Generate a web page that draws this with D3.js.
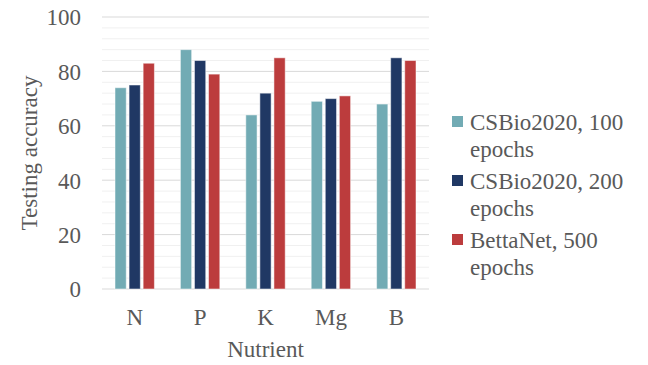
<!DOCTYPE html>
<html>
<head>
<meta charset="utf-8">
<script src="https://cdn.jsdelivr.net/npm/d3@7"></script>
<style>
    body { margin: 0; background: #fff; }
</style>
</head>
<body>
<div id="chart"></div>
<script>
const nutrients = ["N", "P", "K", "Mg", "B"]
const seriesNames = ["CSBio2020, 100 epochs", "CSBio2020, 200 epochs", "BettaNet, 500 epochs"]
const seriesColors = ["#72abb4", "#203864", "#bc3c3d"]
const csbio100 = [74, 88, 64, 69, 68]
const csbio200 = [75, 84, 72, 70, 85]
const bettanet500 = [83, 79, 85, 71, 84]
const yTicks = [0, 20, 40, 60, 80, 100]

const seriesValues = [csbio100, csbio200, bettanet500]

const fontFamily = "'Liberation Serif', 'Times New Roman', 'DejaVu Serif', serif"
const fontSize = "23px"
const textColor = "#595959"

const width = 648
const height = 365
const margin = { top: 17, right: 219, bottom: 76, left: 102 }
const plotW = width - margin.left - margin.right
const plotH = height - margin.top - margin.bottom

const svg = d3.select("#chart").append("svg")
    .attr("width", width)
    .attr("height", height)
    .style("font-family", fontFamily)

const g = svg.append("g")
    .attr("transform", "translate(" + margin.left + "," + margin.top + ")")

const x = d3.scaleBand()
    .domain(nutrients)
    .range([0, plotW])

const xInner = d3.scaleBand()
    .domain(d3.range(seriesNames.length))
    .range([13, x.bandwidth() - 13])
    .paddingInner(0.2)

const y = d3.scaleLinear()
    .domain([0, 100])
    .range([plotH, 0])

// minor gridlines every 4, major every 20
g.append("g")
    .selectAll("line")
    .data(d3.range(0, 101, 4).filter(v => v % 20 !== 0))
    .enter().append("line")
    .attr("x1", 0).attr("x2", plotW)
    .attr("y1", d => y(d)).attr("y2", d => y(d))
    .style("stroke", "#f0f0f0")
    .style("stroke-width", 1)

g.append("g")
    .selectAll("line")
    .data(yTicks)
    .enter().append("line")
    .attr("x1", 0).attr("x2", plotW)
    .attr("y1", d => y(d)).attr("y2", d => y(d))
    .style("stroke", "#d9d9d9")
    .style("stroke-width", 1)

// bars
seriesValues.forEach((vals, si) => {
    g.append("g")
        .selectAll("rect")
        .data(vals)
        .enter().append("rect")
        .attr("x", (d, i) => x(nutrients[i]) + xInner(si))
        .attr("y", d => y(d))
        .attr("width", xInner.bandwidth())
        .attr("height", d => plotH - y(d))
        .style("fill", seriesColors[si])
        .style("stroke", "#ffffff")
        .style("stroke-opacity", 0.5)
        .style("stroke-width", 1)
})

// y axis labels
const yAxis = g.append("g")
    .call(d3.axisLeft(y).tickValues(yTicks).tickSize(0).tickPadding(21))
yAxis.attr("font-family", null).attr("font-size", null)
yAxis.select(".domain").remove()
yAxis.selectAll("text")
    .style("font-family", fontFamily)
    .style("font-size", fontSize)
    .style("fill", textColor)
    .attr("dy", "0.34em")

// x axis labels
const xAxis = g.append("g")
    .attr("transform", "translate(0," + plotH + ")")
    .call(d3.axisBottom(x).tickSize(0).tickPadding(20))
xAxis.attr("font-family", null).attr("font-size", null)
xAxis.select(".domain").remove()
xAxis.selectAll("text")
    .style("font-family", fontFamily)
    .style("font-size", fontSize)
    .style("fill", textColor)

// axis titles
svg.append("text")
    .attr("transform", "translate(37," + (margin.top + plotH / 2) + ") rotate(-90)")
    .attr("text-anchor", "middle")
    .style("font-family", fontFamily)
    .style("font-size", fontSize)
    .style("fill", textColor)
    .text("Testing accuracy")

svg.append("text")
    .attr("x", margin.left + plotW / 2)
    .attr("y", 357)
    .attr("text-anchor", "middle")
    .style("font-family", fontFamily)
    .style("font-size", fontSize)
    .style("fill", textColor)
    .text("Nutrient")

// legend
const legend = svg.append("g")
    .attr("transform", "translate(452,116)")

const item = legend.selectAll("g")
    .data(seriesNames)
    .enter().append("g")
    .attr("transform", (d, i) => "translate(0," + (i * 59) + ")")

item.append("rect")
    .attr("x", 0).attr("y", 0)
    .attr("width", 11).attr("height", 11)
    .style("fill", (d, i) => seriesColors[i])

item.append("text")
    .attr("x", 18)
    .attr("y", 14)
    .style("font-family", fontFamily)
    .style("font-size", fontSize)
    .style("fill", textColor)
    .selectAll("tspan")
    .data(d => {
        const k = d.lastIndexOf(" ")
        return [d.slice(0, k), d.slice(k + 1)]
    })
    .enter().append("tspan")
    .attr("x", 18)
    .attr("dy", (d, i) => i === 0 ? 0 : 27)
    .text(d => d)
</script>
</body>
</html>
